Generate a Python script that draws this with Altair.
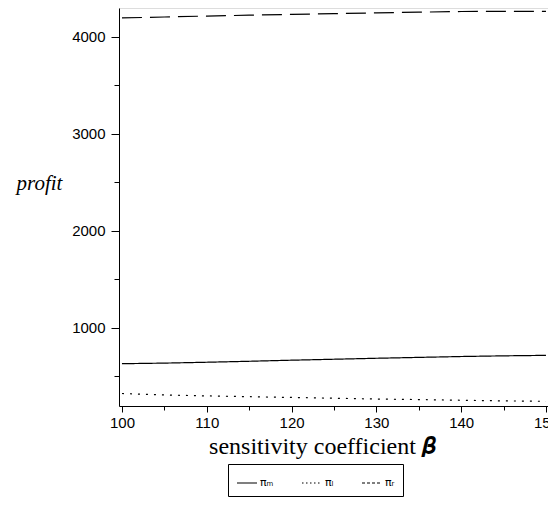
import altair as alt
import pandas as pd

beta = [100, 105, 110, 115, 120, 125, 130, 135, 140, 145, 150]
pi_m = [630, 636, 645, 655, 666, 676, 686, 695, 704, 711, 716]
pi_l = [323, 308, 298, 290, 282, 274, 266, 260, 253, 247, 242]
pi_r = [4194, 4203, 4213, 4222, 4230, 4238, 4246, 4253, 4260, 4262, 4262]
series_names = ["πₘ", "πₗ", "πᵣ"]

rows = []
for name, vals in zip(series_names, [pi_m, pi_l, pi_r]):
    for b, v in zip(beta, vals):
        rows.append({"beta": b, "profit": v, "series": name})
df = pd.DataFrame(rows)

y_major = [1000, 2000, 3000, 4000]
y_minor = [500, 1500, 2500, 3500]
x_major = [100, 110, 120, 130, 140, 150]
x_minor = [105, 115, 125, 135, 145]

xscale = alt.Scale(domain=[99.65, 150.24], nice=False, zero=False)
yscale = alt.Scale(domain=[194, 4296], nice=False, zero=False)

x_enc = alt.X("beta:Q", scale=xscale,
              axis=alt.Axis(values=x_major, format="d",
                            title="sensitivity coefficient 𝜷",
                            titleFont="Liberation Serif", titleFontSize=24,
                            titleFontWeight="normal", titleColor="black",
                            titleX=203, titleY=28, titleAlign="center",
                            titleBaseline="top",
                            labelFont="Liberation Sans",
                            labelFontSize=15, labelColor="black",
                            tickColor="black", domainColor="black",
                            tickSize=6, labelPadding=3, grid=False))
y_enc = alt.Y("profit:Q", scale=yscale,
              axis=alt.Axis(values=y_major, format="d", title="profit",
                            titleAngle=0,
                            titleFont="Liberation Serif", titleFontSize=21,
                            titleFontStyle="italic", titleFontWeight="normal",
                            titleColor="black", titleX=-80, titleY=175,
                            titleAlign="center", titleBaseline="middle",
                            labelFont="Liberation Sans", labelFontSize=15,
                            labelColor="black", tickColor="black",
                            domainColor="black", tickSize=8, labelPadding=6,
                            grid=False))

lines = alt.Chart(df).mark_line(color="black", strokeWidth=1.2).encode(
    x=x_enc, y=y_enc,
    strokeDash=alt.StrokeDash(
        "series:N",
        scale=alt.Scale(domain=series_names,
                        range=[[1, 0], [2, 6], [20, 8]]),
        legend=None),
)

legend_layer = alt.Chart(df).mark_line(color="black", strokeOpacity=0,
                                       opacity=0).encode(
    x=alt.X("beta:Q", scale=xscale, axis=None),
    y=alt.Y("profit:Q", scale=yscale, axis=None),
    strokeDash=alt.StrokeDash(
        "series:N",
        scale=alt.Scale(domain=series_names,
                        range=[[1, 0], [1.5, 2.5], [3, 2]]),
        legend=alt.Legend(title=None, orient="none", legendX=109,
                          legendY=456, direction="horizontal",
                          symbolType="stroke", symbolSize=400,
                          symbolStrokeColor="black", symbolStrokeWidth=1.2,
                          symbolOpacity=1,
                          labelFont="DejaVu Sans", labelFontSize=11,
                          labelColor="black", strokeColor="black",
                          padding=8, columnPadding=25, labelOffset=2)),
)

minor_y = alt.Chart(pd.DataFrame({"v": y_minor})).mark_point(opacity=0).encode(
    y=alt.Y("v:Q", scale=yscale,
            axis=alt.Axis(values=y_minor, labels=False, title=None,
                          tickColor="black", domain=False, tickSize=5,
                          grid=False, orient="left")),
)
minor_x = alt.Chart(pd.DataFrame({"v": x_minor})).mark_point(opacity=0).encode(
    x=alt.X("v:Q", scale=xscale,
            axis=alt.Axis(values=x_minor, labels=False, title=None,
                          tickColor="black", domain=False, tickSize=4,
                          grid=False, orient="bottom")),
)

chart = alt.layer(lines, legend_layer, minor_y, minor_x).resolve_axis(
    x="independent", y="independent"
).resolve_scale(
    strokeDash="independent"
).properties(
    width=429, height=398,
    autosize=alt.AutoSizeParams(type="none"),
    padding={"left": 111, "top": 0, "right": 0, "bottom": 96},
).configure_view(
    stroke="black", strokeWidth=1
).configure(background="white")

chart.save("out.html", embed_options={"renderer": "svg", "actions": False})
